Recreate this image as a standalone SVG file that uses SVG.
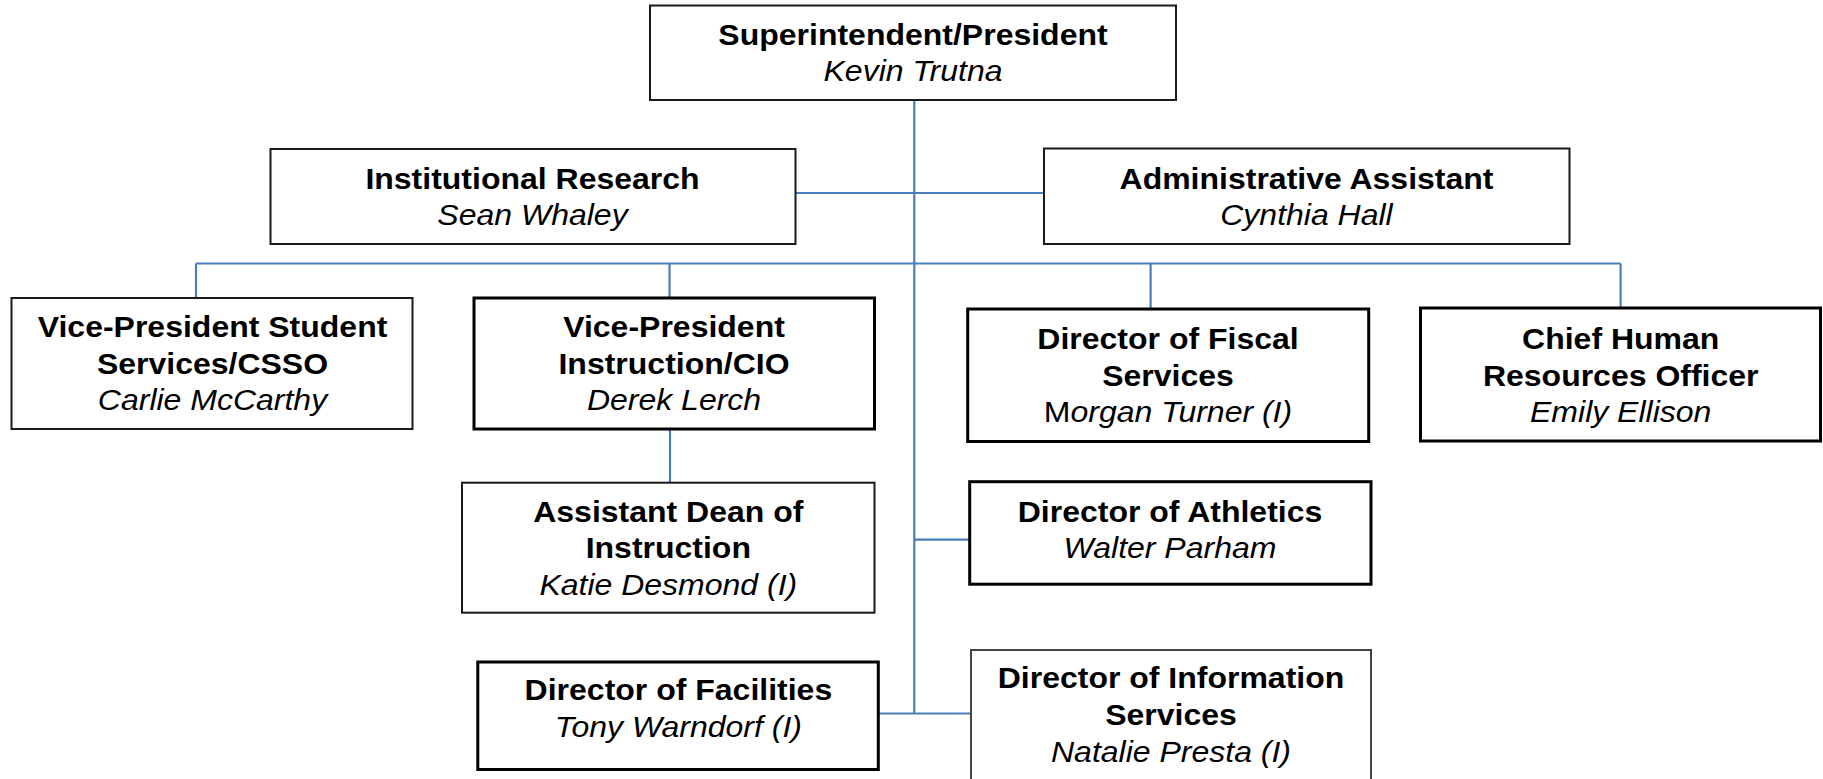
<svg xmlns="http://www.w3.org/2000/svg" width="1823" height="779" viewBox="0 0 1823 779">
<style>
.bg{fill:#fff}
.box{fill:#fff;stroke:#1a1a1a;stroke-width:2}
.thick{stroke:#000;stroke-width:3}
.grey{stroke:#444}
.ln{stroke:#4a7ebb;stroke-width:2.2;fill:none}
.t{font-family:"Liberation Sans",Arial,sans-serif;font-size:29.5px;text-anchor:middle;fill:#000}
.b{font-weight:bold}
.i{font-style:italic}
.n{font-style:normal}
</style>
<rect class="bg" x="0" y="0" width="1823" height="779"/>
<g id="connectors">
<path class="ln" d="M914.3 100 V713.5"/>
<path class="ln" d="M795.5 193 H1044"/>
<path class="ln" d="M196 263.5 H1620.6"/>
<path class="ln" d="M196 263.5 V298"/>
<path class="ln" d="M669.5 263.5 V298"/>
<path class="ln" d="M1150.6 263.5 V309"/>
<path class="ln" d="M1620.6 263.5 V308"/>
<path class="ln" d="M670 429 V482.7"/>
<path class="ln" d="M914.3 539.7 H970"/>
<path class="ln" d="M879 713.5 H971"/>
</g>
<g id="superintendent">
<rect class="box" x="650" y="5.5" width="526" height="94.5"/>
<text class="t" transform="translate(913 0) scale(1.085 1)"><tspan class="b" x="0" y="45">Superintendent/President</tspan><tspan class="i" x="0" y="81">Kevin Trutna</tspan></text>
</g>
<g id="institutional-research">
<rect class="box" x="270.5" y="149" width="525" height="95"/>
<text class="t" transform="translate(532.5 0) scale(1.085 1)"><tspan class="b" x="0" y="189.5">Institutional Research</tspan><tspan class="i" x="0" y="225">Sean Whaley</tspan></text>
</g>
<g id="administrative-assistant">
<rect class="box" x="1044" y="148.5" width="525.5" height="95.5"/>
<text class="t" transform="translate(1306.5 0) scale(1.085 1)"><tspan class="b" x="0" y="189.5">Administrative Assistant</tspan><tspan class="i" x="0" y="225">Cynthia Hall</tspan></text>
</g>
<g id="vp-student-services">
<rect class="box" x="11.5" y="298" width="401" height="131"/>
<text class="t" transform="translate(212.5 0) scale(1.085 1)"><tspan class="b" x="0" y="337.5">Vice-President Student</tspan><tspan class="b" x="0" y="374">Services/CSSO</tspan><tspan class="i" x="0" y="410.5">Carlie McCarthy</tspan></text>
</g>
<g id="vp-instruction">
<rect class="box thick" x="474" y="298" width="400.5" height="131"/>
<text class="t" transform="translate(674 0) scale(1.085 1)"><tspan class="b" x="0" y="337.5">Vice-President</tspan><tspan class="b" x="0" y="374">Instruction/CIO</tspan><tspan class="i" x="0" y="410.5">Derek Lerch</tspan></text>
</g>
<g id="director-fiscal-services">
<rect class="box thick" x="967.7" y="309" width="401" height="132.5"/>
<text class="t" transform="translate(1168 0) scale(1.085 1)"><tspan class="b" x="0" y="349.5">Director of Fiscal</tspan><tspan class="b" x="0" y="386">Services</tspan><tspan x="0" y="422"><tspan class="n">M</tspan><tspan class="i">organ Turner (I)</tspan></tspan></text>
</g>
<g id="chief-human-resources">
<rect class="box thick" x="1420.5" y="308" width="400" height="133"/>
<text class="t" transform="translate(1620.7 0) scale(1.085 1)"><tspan class="b" x="0" y="349.5">Chief Human</tspan><tspan class="b" x="0" y="386">Resources Officer</tspan><tspan class="i" x="0" y="422">Emily Ellison</tspan></text>
</g>
<g id="assistant-dean-instruction">
<rect class="box" x="462" y="482.7" width="412.5" height="130"/>
<text class="t" transform="translate(668.3 0) scale(1.085 1)"><tspan class="b" x="0" y="522">Assistant Dean of</tspan><tspan class="b" x="0" y="558.5">Instruction</tspan><tspan class="i" x="0" y="595">Katie Desmond (I)</tspan></text>
</g>
<g id="director-athletics">
<rect class="box thick" x="969.7" y="481.7" width="401.3" height="102.5"/>
<text class="t" transform="translate(1170 0) scale(1.085 1)"><tspan class="b" x="0" y="522">Director of Athletics</tspan><tspan class="i" x="0" y="558.3">Walter Parham</tspan></text>
</g>
<g id="director-facilities">
<rect class="box thick" x="477.8" y="662" width="400.5" height="107.5"/>
<text class="t" transform="translate(678.4 0) scale(1.085 1)"><tspan class="b" x="0" y="700">Director of Facilities</tspan><tspan class="i" x="0" y="736.7">Tony Warndorf (I)</tspan></text>
</g>
<g id="director-information-services">
<rect class="box grey" x="971" y="650" width="400" height="135"/>
<text class="t" transform="translate(1171 0) scale(1.085 1)"><tspan class="b" x="0" y="688.5">Director of Information</tspan><tspan class="b" x="0" y="725">Services</tspan><tspan class="i" x="0" y="761.7">Natalie Presta (I)</tspan></text>
</g>
</svg>
